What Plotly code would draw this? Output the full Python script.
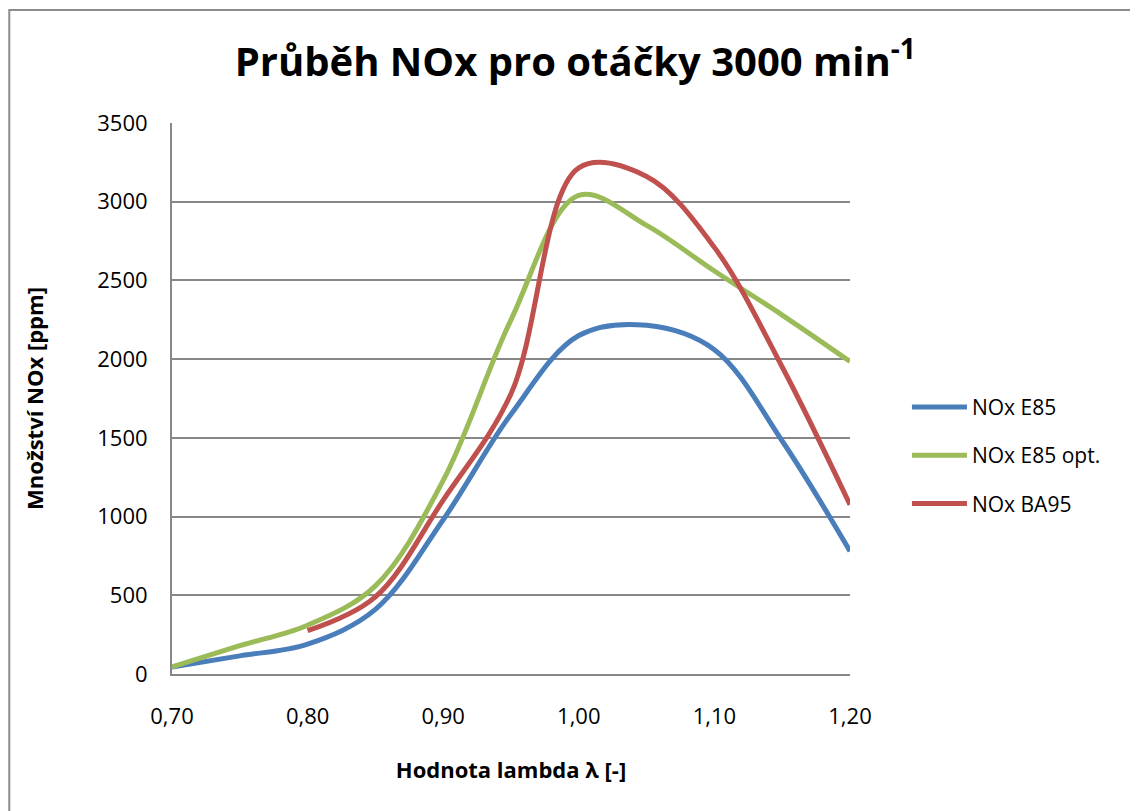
import plotly.graph_objects as go

lam = [0.70, 0.75, 0.80, 0.85, 0.90, 0.95, 1.00, 1.05, 1.10, 1.15, 1.20]
nox_e85 = [45, 115, 190, 410, 980, 1650, 2150, 2215, 2060, 1480, 780]
lam_opt = [0.70, 0.75, 0.80, 0.85, 0.90, 0.95, 1.00, 1.05, 1.10, 1.15, 1.20]
nox_e85_opt = [45, 180, 310, 560, 1230, 2250, 3040, 2850, 2560, 2280, 1985]
lam_ba = [0.80, 0.85, 0.90, 0.95, 1.00, 1.05, 1.10, 1.15, 1.20]
nox_ba95 = [275, 490, 1105, 1780, 3215, 3160, 2710, 1950, 1075]

x_ticks = [0.70, 0.80, 0.90, 1.00, 1.10, 1.20]
x_ticklabels = ["0,70", "0,80", "0,90", "1,00", "1,10", "1,20"]
y_ticks = [0, 500, 1000, 1500, 2000, 2500, 3000, 3500]

FONT = "Open Sans"
GRID = "#878787"

fig = go.Figure()
fig.add_trace(go.Scatter(x=lam, y=nox_e85, name="NOx E85", mode="lines", legendgroup="a",
                         line=dict(color="#4A7EBB", width=5, shape="spline", smoothing=1.0)))
fig.add_trace(go.Scatter(x=lam_opt, y=nox_e85_opt, name="NOx E85 opt.", mode="lines", legendgroup="b",
                         line=dict(color="#9BBB59", width=5, shape="spline", smoothing=1.0)))
fig.add_trace(go.Scatter(x=lam_ba, y=nox_ba95, name="NOx BA95", mode="lines", legendgroup="c",
                         line=dict(color="#C0504D", width=5, shape="spline", smoothing=1.0)))

fig.update_layout(
    width=1130, height=803,
    margin=dict(l=164, r=288, t=115, b=137),
    paper_bgcolor="white", plot_bgcolor="white",
    font=dict(family=FONT, color="black", size=22),
    title=dict(text="<b>Průběh NOx pro otáčky 3000 min<sup>-1</sup></b>",
               x=0.502, xanchor="center", y=0.933, yanchor="middle",
               font=dict(family=FONT, size=40, color="black")),
    xaxis=dict(range=[0.70, 1.20], tickvals=x_ticks, ticktext=x_ticklabels,
               showgrid=False, zeroline=False, showline=True, linecolor=GRID, linewidth=2,
               ticks="", ticklabelstandoff=22, tickfont=dict(size=22),
               title=dict(text="<b>Hodnota lambda λ [-]</b>", font=dict(size=22), standoff=33)),
    yaxis=dict(range=[0, 3500], tickvals=y_ticks, showgrid=True, gridcolor=GRID, gridwidth=2,
               zeroline=False, showline=True, linecolor=GRID, linewidth=2,
               ticks="", ticklabelstandoff=18, tickfont=dict(size=22),
               title=dict(text="<b>Množství NOx [ppm]</b>", font=dict(size=22), standoff=48)),
    legend=dict(x=1.084, y=0.397, xanchor="left", yanchor="middle",
                font=dict(size=21), tracegroupgap=18, itemwidth=55,
                bgcolor="rgba(0,0,0,0)"),
    shapes=[dict(type="rect", xref="paper", yref="paper",
                 x0=-0.240, x1=1.5, y0=-0.5, y1=1.205,
                 line=dict(color="#8c8c8c", width=2), fillcolor="rgba(0,0,0,0)", layer="below")],
)

fig.write_html("out.html")
